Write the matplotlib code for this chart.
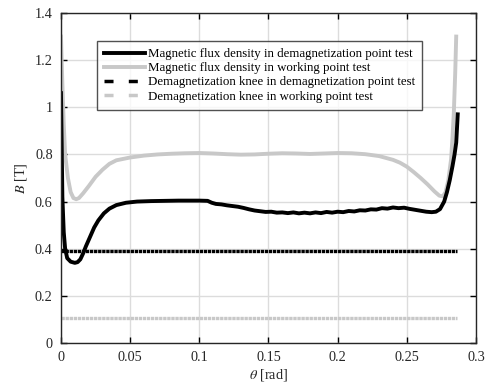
import matplotlib
matplotlib.use('Agg')
import matplotlib.pyplot as plt
from matplotlib.lines import Line2D

# flux density, demagnetization point test
theta_demag = [0, 0.0005, 0.001, 0.002, 0.003, 0.0045, 0.007, 0.010, 0.012, 0.014,
               0.016, 0.018, 0.021, 0.024, 0.027, 0.031, 0.035, 0.040, 0.047, 0.055,
               0.065, 0.075, 0.085, 0.095, 0.100, 0.106, 0.109, 0.112, 0.116, 0.120,
               0.124, 0.128, 0.132, 0.136, 0.140, 0.144, 0.148, 0.152, 0.156, 0.160,
               0.164, 0.168, 0.172, 0.176, 0.180, 0.184, 0.188, 0.192, 0.196, 0.200,
               0.204, 0.208, 0.212, 0.216, 0.220, 0.224, 0.228, 0.232, 0.236, 0.240,
               0.244, 0.248, 0.252, 0.256, 0.260, 0.264, 0.268, 0.271, 0.274, 0.277,
               0.279, 0.281, 0.283, 0.2845, 0.2857, 0.2868]
B_demag = [1.06, 0.85, 0.62, 0.47, 0.40, 0.36, 0.345, 0.340, 0.343, 0.355,
           0.38, 0.41, 0.45, 0.49, 0.52, 0.55, 0.57, 0.585, 0.595, 0.600,
           0.602, 0.603, 0.604, 0.604, 0.604, 0.603, 0.595, 0.590, 0.588, 0.584,
           0.581, 0.578, 0.573, 0.567, 0.562, 0.559, 0.556, 0.557, 0.553, 0.554,
           0.551, 0.554, 0.550, 0.553, 0.550, 0.554, 0.551, 0.556, 0.553, 0.557,
           0.555, 0.560, 0.558, 0.563, 0.562, 0.567, 0.566, 0.572, 0.570, 0.575,
           0.572, 0.574, 0.569, 0.565, 0.561, 0.557, 0.555, 0.557, 0.568, 0.600,
           0.640, 0.690, 0.750, 0.800, 0.850, 0.970]

# flux density, working point test
theta_work = [0, 0.001, 0.002, 0.003, 0.005, 0.007, 0.009, 0.011, 0.013, 0.016,
              0.020, 0.025, 0.030, 0.035, 0.040, 0.050, 0.060, 0.070, 0.080, 0.090,
              0.100, 0.110, 0.120, 0.130, 0.140, 0.150, 0.160, 0.170, 0.180, 0.190,
              0.200, 0.210, 0.220, 0.230, 0.240, 0.245, 0.250, 0.255, 0.260, 0.265,
              0.270, 0.2735, 0.276, 0.278, 0.280, 0.282, 0.283, 0.284, 0.285, 0.2857]
B_work = [1.30, 1.10, 0.93, 0.80, 0.70, 0.64, 0.615, 0.610, 0.615, 0.635,
          0.665, 0.705, 0.735, 0.760, 0.775, 0.787, 0.795, 0.800, 0.803, 0.805,
          0.806, 0.804, 0.801, 0.799, 0.800, 0.803, 0.805, 0.804, 0.802, 0.804,
          0.806, 0.805, 0.801, 0.793, 0.777, 0.765, 0.748, 0.725, 0.700, 0.673,
          0.643, 0.625, 0.622, 0.640, 0.690, 0.780, 0.870, 0.980, 1.150, 1.300]

# demagnetization knees
theta_knee = [0, 0.2865]
knee_demag = 0.39
knee_work = 0.107

labels = ['Magnetic flux density in demagnetization point test',
          'Magnetic flux density in working point test',
          'Demagnetization knee in demagnetization point test',
          'Demagnetization knee in working point test']

plt.rcParams['font.family'] = ['Liberation Serif', 'DejaVu Serif']
plt.rcParams['mathtext.fontset'] = 'stix'

gray = '#c8c8c8'

fig = plt.figure(figsize=(4.89, 3.88), dpi=100)
ax = fig.add_axes([0.1247, 0.116, 0.8487, 0.8505])

ax.plot(theta_knee, [knee_demag] * 2, color='black', lw=2.4, dashes=(1.0, 0.22))
ax.plot(theta_knee, [knee_work] * 2, color=gray, lw=2.4, dashes=(1.0, 0.22))
ax.plot(theta_work, B_work, color=gray, lw=2.8)
ax.plot(theta_demag, B_demag, color='black', lw=2.8)

ax.set_xlim(0, 0.3)
ax.set_ylim(0, 1.4)
ax.set_xticks([0, 0.05, 0.1, 0.15, 0.2, 0.25, 0.3])
ax.set_xticklabels(['0', '0.05', '0.1', '0.15', '0.2', '0.25', '0.3'])
ax.set_yticks([0, 0.2, 0.4, 0.6, 0.8, 1.0, 1.2, 1.4])
ax.set_yticklabels(['0', '0.2', '0.4', '0.6', '0.8', '1', '1.2', '1.4'])
ax.grid(True, color='#dcdcdc', lw=1.0)
ax.set_axisbelow(True)
ax.tick_params(direction='in', top=True, right=True, length=4, width=1,
               labelsize=10.3, colors='black', labelcolor='#262626', pad=6)
for s in ax.spines.values():
    s.set_linewidth(1.0)
    s.set_color('#262626')

ax.set_xlabel(r'$\theta$ [rad]', fontsize=10.3, color='#262626', labelpad=2)
ax.set_ylabel(r'$B$ [T]', fontsize=10.3, color='#262626', labelpad=4)

handles = [Line2D([], [], color='black', lw=2.8),
           Line2D([], [], color=gray, lw=2.8),
           Line2D([], [], color='black', lw=2.5, dashes=(2.6, 4.4)),
           Line2D([], [], color=gray, lw=2.5, dashes=(2.6, 4.4))]
leg = ax.legend(handles, labels, loc='upper left', bbox_to_anchor=(0.0868, 0.915),
                fontsize=9.3, frameon=True, fancybox=False, handlelength=3.15,
                handletextpad=0.25, labelspacing=0.16, borderpad=0.55,
                borderaxespad=0)
leg.get_frame().set_edgecolor('#262626')
leg.get_frame().set_linewidth(1.0)

fig.savefig('out.png', dpi=100)
